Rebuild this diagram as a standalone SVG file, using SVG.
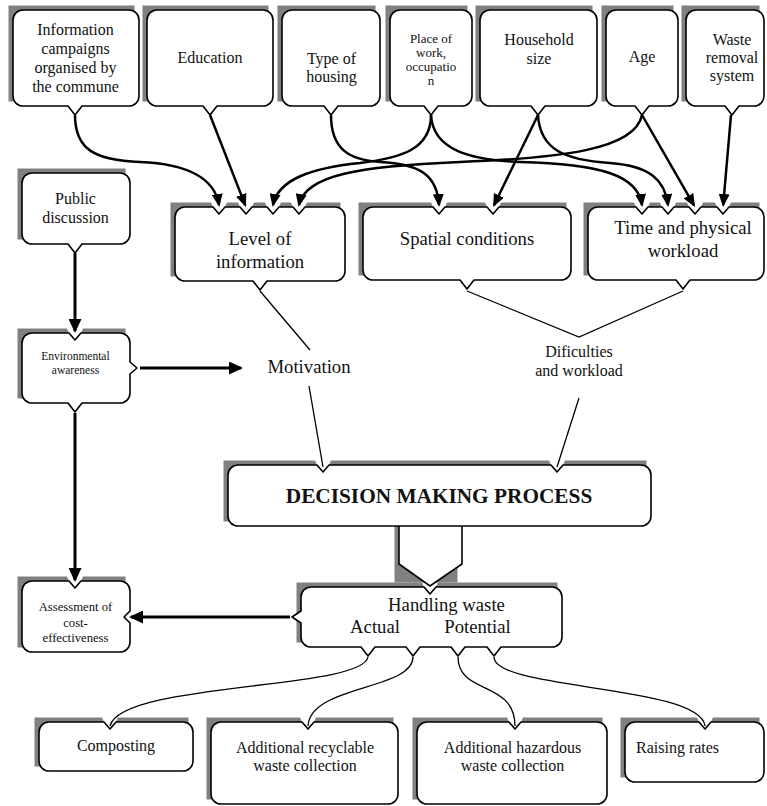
<svg xmlns="http://www.w3.org/2000/svg" width="767" height="806" viewBox="0 0 767 806">
<defs>
<style>
.sh{fill:#808080;stroke:none}
.bx{fill:#fff;stroke:#000;stroke-width:1.6;stroke-linejoin:round}
.tx{font-family:"Liberation Serif","Times New Roman",serif;fill:#111;text-anchor:middle}
.f16{font-size:16px}
.f19{font-size:18.7px}
.thick{fill:none;stroke:#000;stroke-width:2.5}
.heavy{fill:none;stroke:#000;stroke-width:3}
.thin{fill:none;stroke:#000;stroke-width:1.3}
</style>
<marker id="ah" markerUnits="userSpaceOnUse" markerWidth="13" markerHeight="11" refX="11" refY="5.5" orient="auto">
<path d="M0,0 L13,5.5 L0,11 Z" fill="#000"/>
</marker>
<marker id="ahb" markerUnits="userSpaceOnUse" markerWidth="14" markerHeight="13" refX="12" refY="6.5" orient="auto">
<path d="M0,0 L14,6.5 L0,13 Z" fill="#000"/>
</marker>
</defs>
<rect width="767" height="806" fill="#fff"/>

<g id="n-info-campaigns">
<rect class="sh" x="8.5" y="5.5" width="126" height="96"/>
<path class="bx" d="M23,10 H129 A10,10 0 0 1 139,20 V96 A10,10 0 0 1 129,106 H82 L75,115 L68,106 H23 A10,10 0 0 1 13,96 V20 A10,10 0 0 1 23,10 Z"/>
<text class="tx f16" x="75.5"><tspan x="75.5" y="34.5">Information</tspan><tspan x="75.5" y="53.5">campaigns</tspan><tspan x="75.5" y="72.5">organised by</tspan><tspan x="75.5" y="91.5">the commune</tspan></text>
</g>

<g id="n-education">
<rect class="sh" x="142.5" y="5.5" width="126" height="96"/>
<path class="bx" d="M157,10 H263 A10,10 0 0 1 273,20 V96 A10,10 0 0 1 263,106 H217 L210,115 L203,106 H157 A10,10 0 0 1 147,96 V20 A10,10 0 0 1 157,10 Z"/>
<text class="tx f16" x="210" y="62.5">Education</text>
</g>

<g id="n-housing">
<rect class="sh" x="277.5" y="5.5" width="98" height="96"/>
<path class="bx" d="M292,10 H370 A10,10 0 0 1 380,20 V96 A10,10 0 0 1 370,106 H338 L331,115 L324,106 H292 A10,10 0 0 1 282,96 V20 A10,10 0 0 1 292,10 Z"/>
<text class="tx f16"><tspan x="331.5" y="63.5">Type of</tspan><tspan x="331.5" y="81.5">housing</tspan></text>
</g>

<g id="n-work">
<rect class="sh" x="385.5" y="5.5" width="82" height="96"/>
<path class="bx" d="M400,10 H462 A10,10 0 0 1 472,20 V96 A10,10 0 0 1 462,106 H438 L431,115 L424,106 H400 A10,10 0 0 1 390,96 V20 A10,10 0 0 1 400,10 Z"/>
<text class="tx" style="font-size:13px"><tspan x="431" y="43">Place of</tspan><tspan x="431" y="57">work,</tspan><tspan x="431" y="71">occupatio</tspan><tspan x="431" y="85">n</tspan></text>
</g>

<g id="n-household">
<rect class="sh" x="475.5" y="5.5" width="117" height="96"/>
<path class="bx" d="M490,10 H587 A10,10 0 0 1 597,20 V96 A10,10 0 0 1 587,106 H545 L538,115 L531,106 H490 A10,10 0 0 1 480,96 V20 A10,10 0 0 1 490,10 Z"/>
<text class="tx f16"><tspan x="539" y="45">Household</tspan><tspan x="539" y="64">size</tspan></text>
</g>

<g id="n-age">
<rect class="sh" x="601.5" y="5.5" width="72" height="96"/>
<path class="bx" d="M616,10 H668 A10,10 0 0 1 678,20 V96 A10,10 0 0 1 668,106 H649 L642,115 L635,106 H616 A10,10 0 0 1 606,96 V20 A10,10 0 0 1 616,10 Z"/>
<text class="tx f16" x="642" y="61.5">Age</text>
</g>

<g id="n-waste-removal">
<rect class="sh" x="681.5" y="5.5" width="78" height="96"/>
<path class="bx" d="M696,10 H754 A10,10 0 0 1 764,20 V96 A10,10 0 0 1 754,106 H739 L732,115 L725,106 H696 A10,10 0 0 1 686,96 V20 A10,10 0 0 1 696,10 Z"/>
<text class="tx f16"><tspan x="732" y="45">Waste</tspan><tspan x="732" y="63">removal</tspan><tspan x="732" y="81">system</tspan></text>
</g>

<g id="n-public-discussion">
<rect class="sh" x="17.5" y="168.5" width="108" height="71"/>
<path class="bx" d="M32,173 H120 A10,10 0 0 1 130,183 V234 A10,10 0 0 1 120,244 H82 L75,253 L68,244 H32 A10,10 0 0 1 22,234 V183 A10,10 0 0 1 32,173 Z"/>
<text class="tx f16"><tspan x="75.5" y="203.5">Public</tspan><tspan x="75.5" y="222.5">discussion</tspan></text>
</g>

<g id="n-env-awareness">
<path class="sh" d="M17.5,328.5 H67 L69,333 L75,340 L81,333 L83,328.5 H125.5 V398.5 H17.5 Z"/>
<path class="bx" d="M32,333 H69 L75,340 L81,333 H120 A10,10 0 0 1 130,343 V362 L137,368 L130,374 V393 A10,10 0 0 1 120,403 H82 L75,412 L68,403 H32 A10,10 0 0 1 22,393 V343 A10,10 0 0 1 32,333 Z"/>
<text class="tx" style="font-size:11.5px"><tspan x="75.5" y="359.5">Environmental</tspan><tspan x="75.5" y="373.5">awareness</tspan></text>
</g>

<g id="n-level-info">
<path class="sh" d="M170.5,202.5 H211 L213,207 L219,214 L225,207 L227,202.5 H238 L240,207 L246,214 L252,207 L254,202.5 H265 L267,207 L273,214 L279,207 L281,202.5 H291 L293,207 L299,214 L305,207 L307,202.5 H340.5 V276.5 H170.5 Z"/>
<path class="bx" d="M185,207 H213 L219,214 L225,207 H240 L246,214 L252,207 H267 L273,214 L279,207 H293 L299,214 L305,207 H335 A10,10 0 0 1 345,217 V271 A10,10 0 0 1 335,281 H267 L260,290 L253,281 H185 A10,10 0 0 1 175,271 V217 A10,10 0 0 1 185,207 Z"/>
<text class="tx f19"><tspan x="260" y="245">Level of</tspan><tspan x="260" y="267.5">information</tspan></text>
</g>

<g id="n-spatial">
<path class="sh" d="M358.5,202.5 H431 L433,207 L439,214 L445,207 L447,202.5 H485 L487,207 L493,214 L499,207 L501,202.5 H566.5 V275.5 H358.5 Z"/>
<path class="bx" d="M373,207 H433 L439,214 L445,207 H487 L493,214 L499,207 H561 A10,10 0 0 1 571,217 V270 A10,10 0 0 1 561,280 H474 L467,289 L460,280 H373 A10,10 0 0 1 363,270 V217 A10,10 0 0 1 373,207 Z"/>
<text class="tx f19" x="467" y="244.5">Spatial conditions</text>
</g>

<g id="n-time-workload">
<path class="sh" d="M583.5,202.5 H634 L636,207 L642,214 L648,207 L650,202.5 H660 L662,207 L668,214 L674,207 L676,202.5 H687 L689,207 L695,214 L701,207 L703,202.5 H715 L717,207 L723,214 L729,207 L731,202.5 H759.5 V275.5 H583.5 Z"/>
<path class="bx" d="M598,207 H636 L642,214 L648,207 H662 L668,214 L674,207 H689 L695,214 L701,207 H717 L723,214 L729,207 H754 A10,10 0 0 1 764,217 V270 A10,10 0 0 1 754,280 H690 L683,289 L676,280 H598 A10,10 0 0 1 588,270 V217 A10,10 0 0 1 598,207 Z"/>
<text class="tx f19"><tspan x="683" y="234">Time and physical</tspan><tspan x="683" y="257">workload</tspan></text>
</g>

<g id="n-motivation">
<text class="tx f19" x="309" y="372.5">Motivation</text>
</g>

<g id="n-difficulties">
<text class="tx f16"><tspan x="579" y="357">Dificulties</tspan><tspan x="579" y="376">and workload</tspan></text>
</g>

<g id="n-decision">
<rect class="sh" x="394.5" y="521.5" width="63" height="61"/>
<path d="M399,526 V564 L430,586 L462,564 V526" fill="#fff" stroke="#000" stroke-width="1.6" stroke-linejoin="miter"/>
<path class="sh" d="M223.5,460.5 H315 L317,465 L323,472 L329,465 L331,460.5 H549 L551,465 L557,472 L563,465 L565,460.5 H646.5 V521.5 H223.5 Z"/>
<path class="bx" d="M238,465 H317 L323,472 L329,465 H551 L557,472 L563,465 H641 A10,10 0 0 1 651,475 V516 A10,10 0 0 1 641,526 H238 A10,10 0 0 1 228,516 V475 A10,10 0 0 1 238,465 Z"/>
<text class="tx" style="font-size:21.3px;font-weight:bold" x="439" y="502.5">DECISION MAKING PROCESS</text>
</g>

<g id="n-handling">
<path class="sh" d="M296.5,582.5 H422 L424,587 L430,594 L436,587 L438,582.5 H557.5 V642.5 H296.5 Z"/>
<path class="bx" d="M311,587 H424 L430,594 L436,587 H552 A10,10 0 0 1 562,597 V637 A10,10 0 0 1 552,647 H501 L494,656 L487,647 H465 L458,656 L451,647 H420 L413,656 L406,647 H375 L368,656 L361,647 H311 A10,10 0 0 1 301,637 V623 L292,617 L301,611 V597 A10,10 0 0 1 311,587 Z"/>
<text class="tx f19" x="446.5" y="610.5">Handling waste</text>
<text class="tx f19" x="375" y="632.5">Actual</text>
<text class="tx f19" x="477.5" y="632.5">Potential</text>
</g>

<g id="n-assessment">
<path class="sh" d="M17.5,576.5 H67 L69,581 L75,588 L81,581 L83,576.5 H125.5 V647.5 H17.5 Z"/>
<path class="bx" d="M32,581 H69 L75,588 L81,581 H120 A10,10 0 0 1 130,591 V611 L124,617 L130,623 V642 A10,10 0 0 1 120,652 H32 A10,10 0 0 1 22,642 V591 A10,10 0 0 1 32,581 Z"/>
<text class="tx" style="font-size:12.7px"><tspan x="75.5" y="611">Assessment of</tspan><tspan x="75.5" y="626.5">cost-</tspan><tspan x="75.5" y="642">effectiveness</tspan></text>
</g>

<g id="n-composting">
<path class="sh" d="M34.5,717.5 H102 L104,722 L110,729 L116,722 L118,717.5 H188.5 V766.5 H34.5 Z"/>
<path class="bx" d="M49,722 H104 L110,729 L116,722 H183 A10,10 0 0 1 193,732 V761 A10,10 0 0 1 183,771 H49 A10,10 0 0 1 39,761 V732 A10,10 0 0 1 49,722 Z"/>
<text class="tx f16" x="116" y="750.5">Composting</text>
</g>

<g id="n-recyclable">
<path class="sh" d="M206.5,717.5 H300 L302,722 L308,729 L314,722 L316,717.5 H393.5 V799.5 H206.5 Z"/>
<path class="bx" d="M221,722 H302 L308,729 L314,722 H388 A10,10 0 0 1 398,732 V794 A10,10 0 0 1 388,804 H221 A10,10 0 0 1 211,794 V732 A10,10 0 0 1 221,722 Z"/>
<text class="tx f16"><tspan x="305" y="752.5">Additional recyclable</tspan><tspan x="305" y="771">waste collection</tspan></text>
</g>

<g id="n-hazardous">
<path class="sh" d="M412.5,717.5 H507 L509,722 L515,729 L521,722 L523,717.5 H602.5 V799.5 H412.5 Z"/>
<path class="bx" d="M427,722 H509 L515,729 L521,722 H597 A10,10 0 0 1 607,732 V794 A10,10 0 0 1 597,804 H427 A10,10 0 0 1 417,794 V732 A10,10 0 0 1 427,722 Z"/>
<text class="tx f16"><tspan x="512.5" y="752.5">Additional hazardous</tspan><tspan x="512.5" y="771">waste collection</tspan></text>
</g>

<g id="n-raising-rates">
<path class="sh" d="M620.5,717.5 H697 L699,722 L705,729 L711,722 L713,717.5 H759.5 V777.5 H620.5 Z"/>
<path class="bx" d="M635,722 H699 L705,729 L711,722 H754 A10,10 0 0 1 764,732 V772 A10,10 0 0 1 754,782 H635 A10,10 0 0 1 625,772 V732 A10,10 0 0 1 635,722 Z"/>
<text class="tx f16" style="text-anchor:start" x="636" y="752.5">Raising rates</text>
</g>

<g id="connectors">
<path class="thick" marker-end="url(#ah)" d="M75,115 C75,150 95,160 140,162 C190,164 215,180 219,205"/>
<path class="thick" marker-end="url(#ah)" d="M210,115 L245.2,205.1"/>
<path class="thick" marker-end="url(#ah)" d="M331,115 C331,150 350,160 380,162 C420,164 437,175 439,205"/>
<path class="thick" marker-end="url(#ah)" d="M431,115 C431,150 400,158 360,163 C310,168 278,180 273,205"/>
<path class="thick" marker-end="url(#ah)" d="M431,115 C433,150 470,160 520,162 C600,164 638,175 642,205"/>
<path class="thick" marker-end="url(#ah)" d="M538,115 L494,205.2"/>
<path class="thick" marker-end="url(#ah)" d="M538,115 C540,150 565,160 610,163 C650,166 665,180 668,205"/>
<path class="thick" marker-end="url(#ah)" d="M642,115 C635,150 560,158 460,162 C360,166 305,175 299,205"/>
<path class="thick" marker-end="url(#ah)" d="M642,115 L694,205.3"/>
<path class="thick" marker-end="url(#ah)" d="M731,115 L723.2,205"/>
<path class="heavy" marker-end="url(#ahb)" d="M75,253 V331"/>
<path class="heavy" marker-end="url(#ahb)" d="M140,368 H241"/>
<path class="heavy" marker-end="url(#ahb)" d="M75,413 V580"/>
<path class="heavy" marker-end="url(#ahb)" d="M290,617 H131"/>
<path class="thin" d="M260,291 L310,350"/>
<path class="thin" d="M309,386 L323,467"/>
<path class="thin" d="M467,291 L579,337 L683,291"/>
<path class="thin" d="M579,398 L557,467"/>
<path class="thin" d="M368,657 C362,690 120,682 110,726"/>
<path class="thin" d="M413,657 C413,690 310,685 308,726"/>
<path class="thin" d="M458,657 C458,695 515,680 515,726"/>
<path class="thin" d="M494,657 C494,690 700,685 705,726"/>
</g>
</svg>
